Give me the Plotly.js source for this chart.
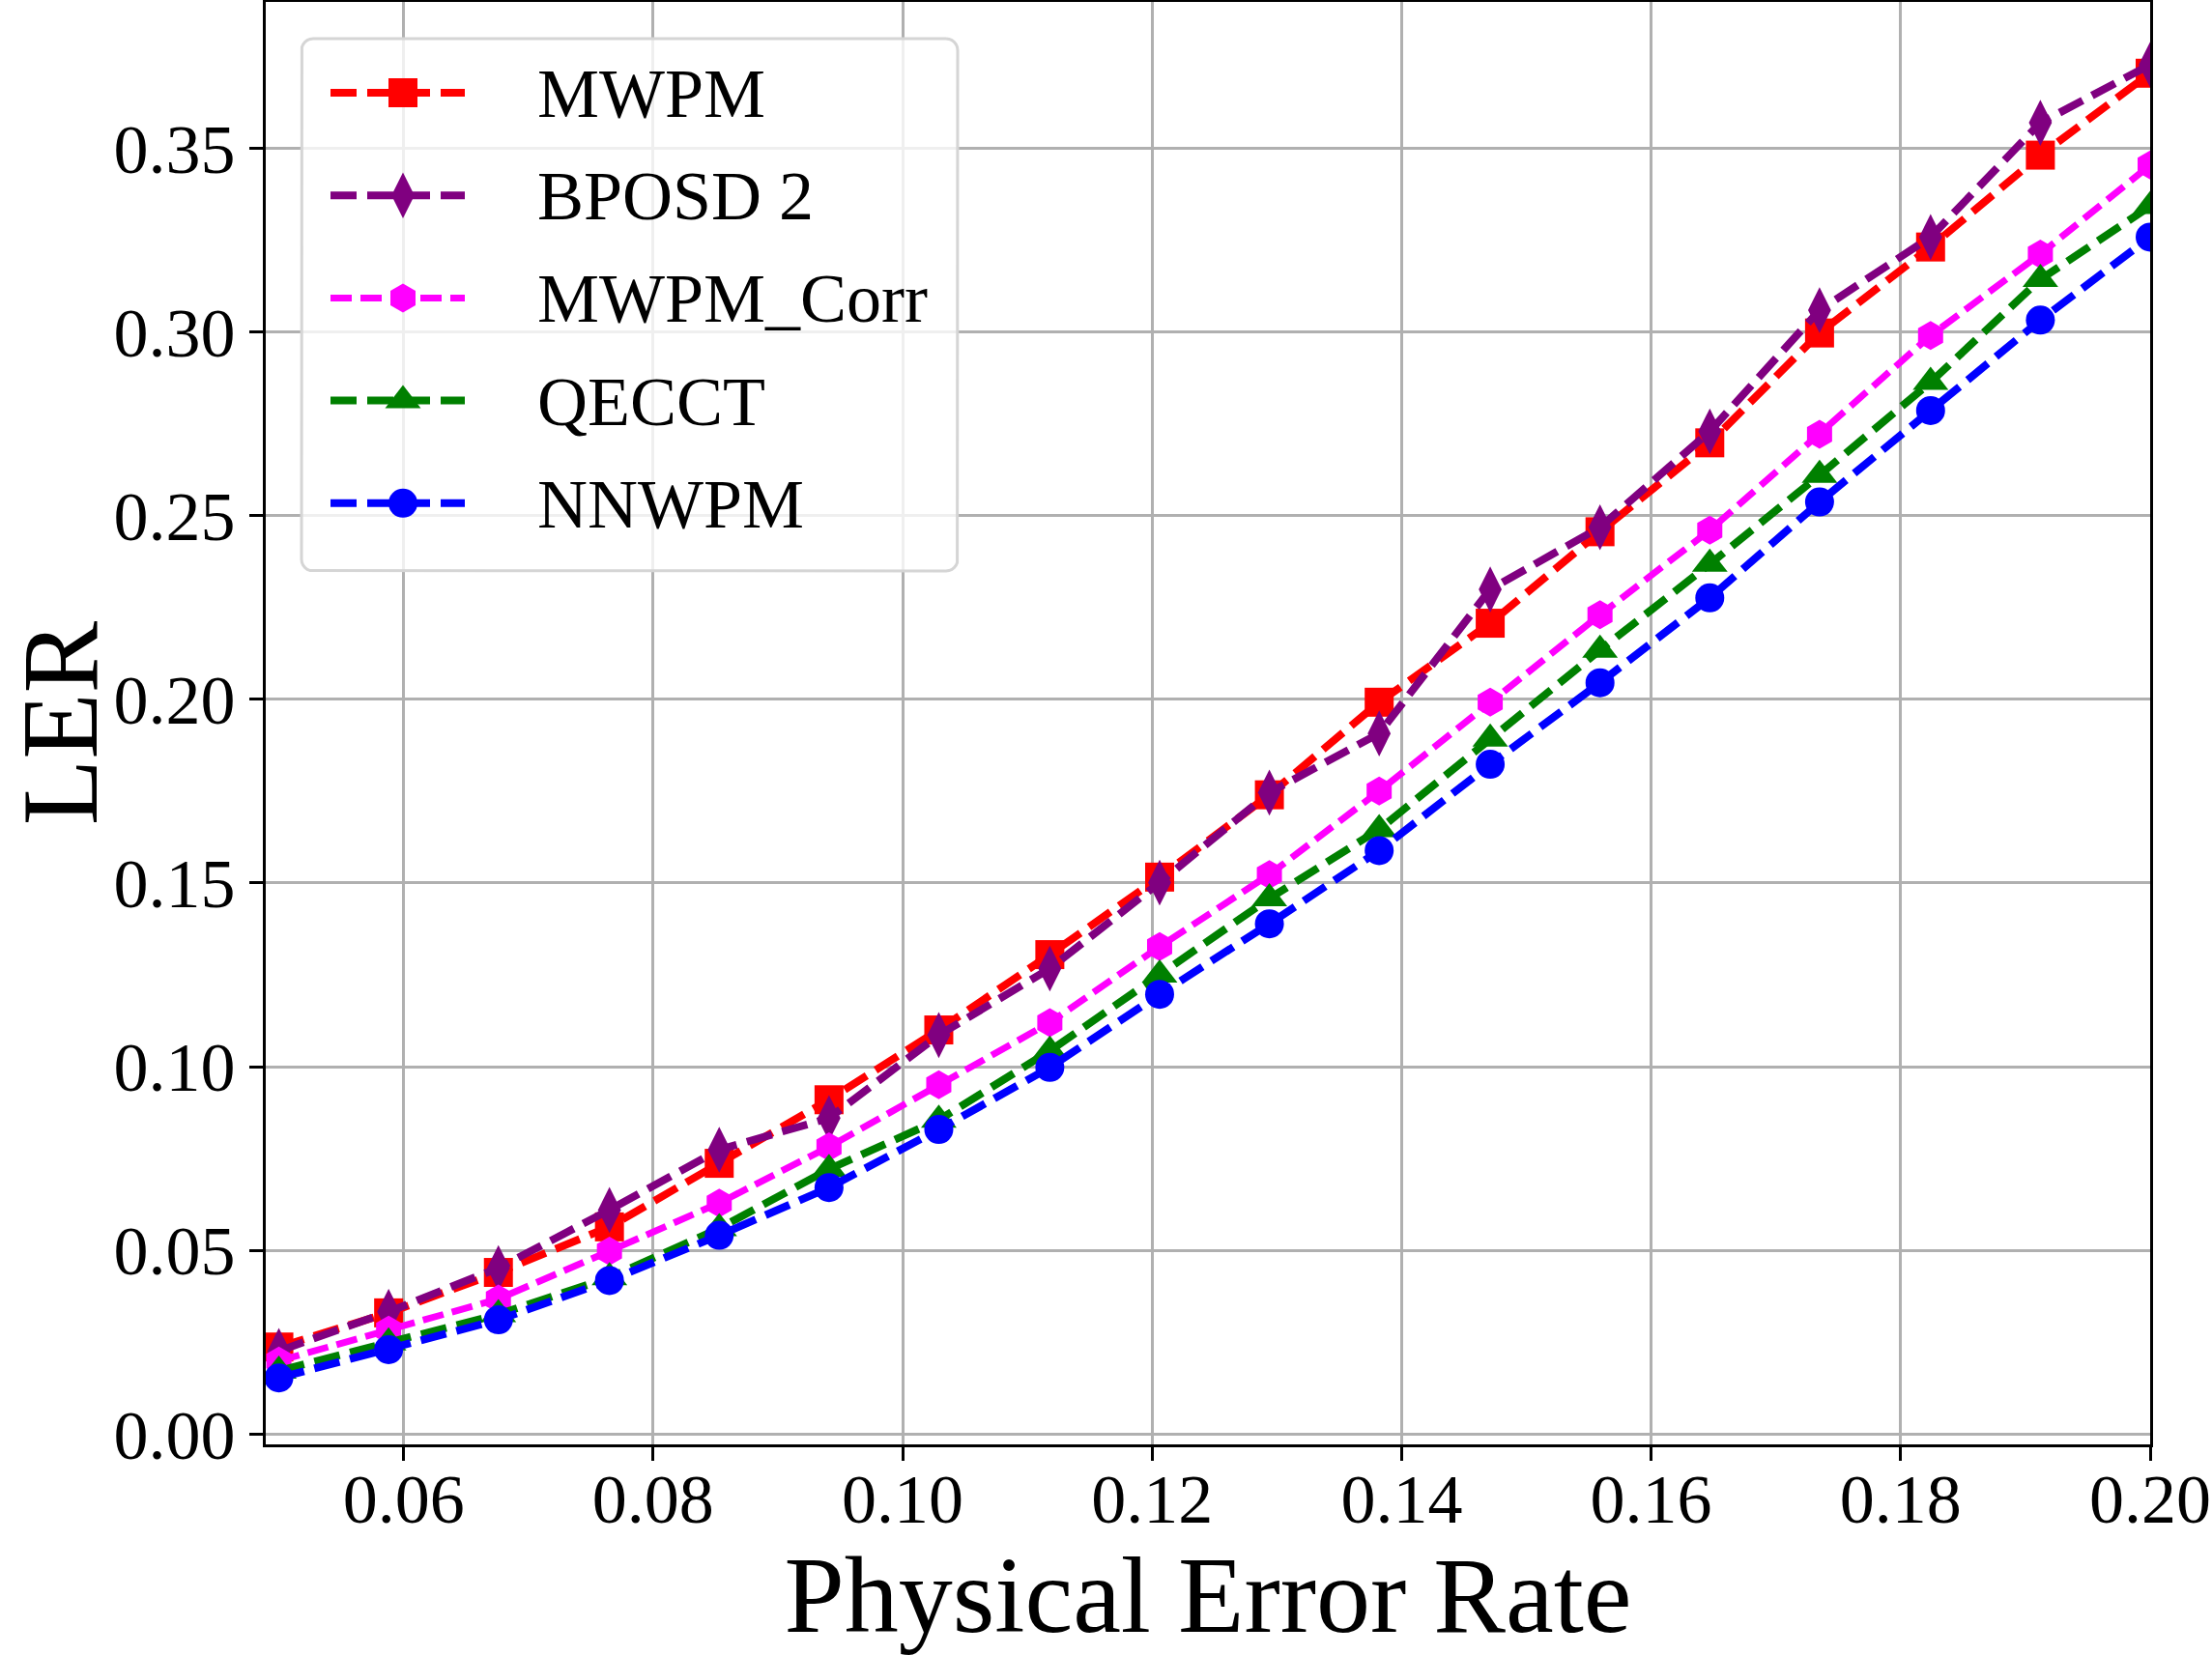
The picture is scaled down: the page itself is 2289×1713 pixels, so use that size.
<!DOCTYPE html>
<html>
<head>
<meta charset="utf-8">
<script src="https://cdn.plot.ly/plotly-3.0.1.min.js"></script>
<style>html,body{margin:0;padding:0;background:#fff;}#chart{width:2289px;height:1713px;}</style>
</head>
<body>
<div id="chart"></div>
<script>
// Physical error rate (x)
const physErrorRate = [0.05, 0.0588, 0.0676, 0.0765, 0.0853, 0.0941, 0.1029, 0.1118, 0.1206,
                       0.1294, 0.1382, 0.1471, 0.1559, 0.1647, 0.1735, 0.1824, 0.1912, 0.2];
// LER series
const lerMWPM     = [0.0237, 0.0330, 0.0440, 0.0564, 0.0737, 0.0910, 0.1100, 0.1305, 0.1516,
                     0.1740, 0.1992, 0.2207, 0.2456, 0.2698, 0.2997, 0.3231, 0.3481, 0.3704];
const lerBPOSD2   = [0.0226, 0.0333, 0.0452, 0.0610, 0.0774, 0.0860, 0.1086, 0.1267, 0.1501,
                     0.1746, 0.1907, 0.2299, 0.2468, 0.2729, 0.3059, 0.3258, 0.3569, 0.3727];
const lerMWPMCorr = [0.0199, 0.0283, 0.0368, 0.0498, 0.0629, 0.0782, 0.0951, 0.1120, 0.1327,
                     0.1523, 0.1750, 0.1992, 0.2230, 0.2460, 0.2721, 0.2990, 0.3212, 0.3454];
const lerQECCT    = [0.0172, 0.0249, 0.0326, 0.0426, 0.0560, 0.0721, 0.0855, 0.1043, 0.1250,
                     0.1458, 0.1646, 0.1892, 0.2134, 0.2368, 0.2610, 0.2863, 0.3143, 0.3342];
const lerNNWPM    = [0.0153, 0.0230, 0.0311, 0.0418, 0.0541, 0.0671, 0.0829, 0.0998, 0.1197,
                     0.1389, 0.1588, 0.1823, 0.2045, 0.2276, 0.2537, 0.2786, 0.3032, 0.3258];

const seriesNames = ['MWPM', 'BPOSD 2', 'MWPM_Corr', 'QECCT', 'NNWPM'];
const seriesData = [lerMWPM, lerBPOSD2, lerMWPMCorr, lerQECCT, lerNNWPM];
const seriesColors = ['#ff0000', '#800080', '#ff00ff', '#008000', '#0000ff'];
const seriesSymbols = ['square', 'diamond-tall', 'hexagon', 'triangle-up', 'circle'];
const seriesMarkerSizes = [30, 34, 30, 32, 30];
const seriesLineWidths = [8, 8, 7, 8, 8];
const seriesDash = ['27px,11px', '27px,11px', '22px,9px', '27px,11px', '27px,11px'];

const xTicks = [0.06, 0.08, 0.10, 0.12, 0.14, 0.16, 0.18, 0.20];
const yTicks = [0.00, 0.05, 0.10, 0.15, 0.20, 0.25, 0.30, 0.35];

const xTitle = 'Physical Error Rate';
const yTitle = 'LER';

const FONT = '"Liberation Serif", "DejaVu Serif", serif';

// ---- plot geometry (pixels) ----
const W = 2289, H = 1713;
const M = {l: 275, r: 64, t: 2, b: 218};
const plotL = M.l, plotR = W - M.r, plotT = M.t, plotB = H - M.b;

// ---- legend geometry (pixels, drawn on an overlay axis that maps 1:1 to pixels) ----
const LEG = {x0: 312, x1: 991, y0: 40, y1: 591, r: 12,
             lineX0: 342, lineX1: 481, markX: 417, textX: 554, row0: 96, rowStep: 106.2};

function roundedBox(b) {
  const xs = [], ys = [];
  const corners = [
    [b.x1 - b.r, b.y0 + b.r, -90, 0],
    [b.x1 - b.r, b.y1 - b.r, 0, 90],
    [b.x0 + b.r, b.y1 - b.r, 90, 180],
    [b.x0 + b.r, b.y0 + b.r, 180, 270]
  ];
  corners.forEach(([cx, cy, a0, a1]) => {
    for (let k = 0; k <= 6; k++) {
      const a = (a0 + (a1 - a0) * k / 6) * Math.PI / 180;
      xs.push(cx + b.r * Math.cos(a));
      ys.push(cy + b.r * Math.sin(a));
    }
  });
  xs.push(xs[0]); ys.push(ys[0]);
  return {xs, ys};
}

const traces = seriesNames.map((name, i) => ({
  x: physErrorRate,
  y: seriesData[i],
  name: name,
  type: 'scatter',
  mode: 'lines+markers',
  showlegend: false,
  line: {color: seriesColors[i], width: seriesLineWidths[i], dash: seriesDash[i]},
  marker: {color: seriesColors[i], symbol: seriesSymbols[i], size: seriesMarkerSizes[i], line: {width: 0}}
}));

// legend frame
const box = roundedBox(LEG);
traces.push({
  x: box.xs, y: box.ys, xaxis: 'x2', yaxis: 'y2',
  type: 'scatter', mode: 'lines', fill: 'toself',
  fillcolor: 'rgba(255,255,255,0.8)',
  line: {color: '#d5d5d5', width: 3},
  showlegend: false, cliponaxis: false, hoverinfo: 'skip'
});

// legend samples
const annotations = [];
seriesNames.forEach((name, i) => {
  const ry = LEG.row0 + LEG.rowStep * i;
  traces.push({
    x: [LEG.lineX0, LEG.markX, LEG.lineX1], y: [ry, ry, ry],
    xaxis: 'x2', yaxis: 'y2', type: 'scatter', mode: 'lines+markers',
    line: {color: seriesColors[i], width: seriesLineWidths[i], dash: seriesDash[i]},
    marker: {color: seriesColors[i], symbol: seriesSymbols[i], size: seriesMarkerSizes[i],
             opacity: [0, 1, 0], line: {width: 0}},
    showlegend: false, cliponaxis: false, hoverinfo: 'skip'
  });
  annotations.push({
    xref: 'x2', yref: 'y2', x: LEG.textX, y: ry + 1,
    xanchor: 'left', yanchor: 'middle', showarrow: false,
    text: name, font: {family: FONT, size: 72, color: '#000'}
  });
});

const layout = {
  width: W, height: H,
  paper_bgcolor: '#ffffff', plot_bgcolor: '#ffffff',
  margin: {l: M.l, r: M.r, t: M.t, b: M.b, pad: 0},
  font: {family: FONT, color: '#000000', size: 72},
  showlegend: false,
  annotations: annotations,
  xaxis: {
    range: [0.04895, 0.2],
    tickvals: xTicks, ticktext: xTicks.map(v => v.toFixed(2)),
    tickfont: {family: FONT, size: 72, color: '#000'},
    ticks: 'outside', ticklen: 14, tickwidth: 3, tickcolor: '#000',
    ticklabelstandoff: -22,
    showline: true, linecolor: '#000', linewidth: 3, mirror: true,
    showgrid: true, gridcolor: '#b0b0b0', gridwidth: 3, zeroline: false,
    title: {text: xTitle, font: {family: FONT, size: 112, color: '#000'}, standoff: 36},
    automargin: false
  },
  yaxis: {
    range: [-0.0028, 0.3898],
    tickvals: yTicks, ticktext: yTicks.map(v => v.toFixed(2)),
    tickfont: {family: FONT, size: 72, color: '#000'},
    ticks: 'outside', ticklen: 14, tickwidth: 3, tickcolor: '#000',
    showline: true, linecolor: '#000', linewidth: 3, mirror: true,
    showgrid: true, gridcolor: '#b0b0b0', gridwidth: 3, zeroline: false,
    title: {text: yTitle, font: {family: FONT, size: 112, color: '#000'}, standoff: 40},
    automargin: false
  },
  xaxis2: {overlaying: 'x', anchor: 'y2', range: [plotL, plotR], visible: false,
           showgrid: false, zeroline: false, fixedrange: true},
  yaxis2: {overlaying: 'y', anchor: 'x2', range: [plotB, plotT], visible: false,
           showgrid: false, zeroline: false, fixedrange: true}
};

Plotly.newPlot('chart', traces, layout, {staticPlot: true, displayModeBar: false});
</script>
</body>
</html>
